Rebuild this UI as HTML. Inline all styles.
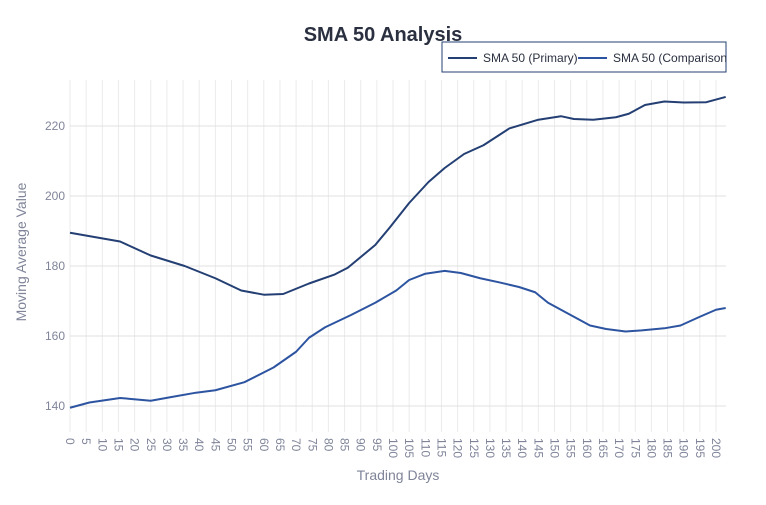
<!DOCTYPE html>
<html><head><meta charset="utf-8"><style>
body{margin:0;background:#fff;font-family:"Liberation Sans",sans-serif;}
svg text{font-family:"Liberation Sans",sans-serif;}
</style></head><body>
<svg id="c" width="766" height="500"></svg>
<script>
const xs1=[0,15.5,25,35.5,45,53,60,66,74,82,86,94.5,99,105,111,116,122,128,136,145,152,156,162,169,173,178,184,190,197,203];
const primary=[189.5,187,183,180,176.5,173,171.8,172,175,177.6,179.5,186,191,198,204,208,212,214.5,219.3,221.8,222.8,222,221.8,222.5,223.5,226,227,226.7,226.8,228.3];
const xs2=[0,6,15.5,25,31,39,45,54,63,70,74,79,87,94.5,101,105,110,116,121,127,133,139,144,148,156,161,166,172,177,184,189,195,200,203];
const comparison=[139.5,141,142.3,141.5,142.5,143.8,144.5,146.8,151,155.5,159.5,162.5,166,169.5,173,176,177.8,178.6,178,176.5,175.3,174,172.5,169.5,165.5,163,162,161.3,161.6,162.2,163,165.5,167.5,168];
const yTicks=[140,160,180,200,220];
const xTicks=[];for(let i=0;i<=200;i+=5)xTicks.push(i);
const L=70,R=726,T=80,B=432;
const X=v=>L+v*(716-70)/200;
const Y=v=>126+(220-v)*3.5;
const svg=document.getElementById('c');const NS='http://www.w3.org/2000/svg';
function el(t,a,p){const e=document.createElementNS(NS,t);for(const k in a)e.setAttribute(k,a[k]);(p||svg).appendChild(e);return e;}
const defs=el('defs',{});
const cp=el('clipPath',{id:'lc'},defs);
el('rect',{x:442,y:42,width:284,height:30},cp);
const grid=el('g',{});


xTicks.forEach(v=>{const l=el('line',{x1:X(v),x2:X(v),y1:T,y2:B,stroke:'#ebebeb','stroke-width':1},grid);


const t=el('text',{x:0,y:0,transform:`translate(${X(v)-4},438) rotate(90)`,'font-size':12,fill:'#7f8499'},svg);t.textContent=v;

});
yTicks.forEach(v=>{const l=el('line',{x1:L,x2:R,y1:Y(v),y2:Y(v),stroke:'#e0e0e0','stroke-width':1},grid);


const t=el('text',{x:L-5,y:Y(v)+4,'text-anchor':'end','font-size':12,fill:'#7f8499'});t.textContent=v;

});
function line(xs,ys,color,name){const p=el('path',{d:xs.map((x,i)=>(i?'L':'M')+X(x)+','+Y(ys[i])).join(''),fill:'none',stroke:color,'stroke-width':2,'stroke-linejoin':'round'});

}
line(xs1,primary,'#243f73','primary-line');
line(xs2,comparison,'#2d54a0','comparison-line');
let t=el('text',{x:383,y:41,'text-anchor':'middle','font-size':20,'font-weight':'bold',fill:'#2a3040'});t.textContent='SMA 50 Analysis';


t=el('text',{x:398,y:480,'text-anchor':'middle','font-size':14,fill:'#7f8499'});t.textContent='Trading Days';


t=el('text',{x:0,y:0,transform:'translate(26,252) rotate(-90)','text-anchor':'middle','font-size':14,fill:'#7f8499'});t.textContent='Moving Average Value';


const lg=el('g',{});


el('rect',{x:442,y:42,width:284,height:30,fill:'#fff',stroke:'#243f73','stroke-width':1},lg);
const lgc=el('g',{'clip-path':'url(#lc)'},lg);
el('line',{x1:448,x2:477,y1:58,y2:58,stroke:'#243f73','stroke-width':2},lgc);
t=el('text',{x:483,y:62,'font-size':12,fill:'#2a3040'},lgc);t.textContent='SMA 50 (Primary)';


el('line',{x1:578,x2:607,y1:58,y2:58,stroke:'#2d54a0','stroke-width':2},lgc);
t=el('text',{x:613,y:62,'font-size':12,fill:'#2a3040'},lgc);t.textContent='SMA 50 (Comparison)';


</script>
</body></html>
